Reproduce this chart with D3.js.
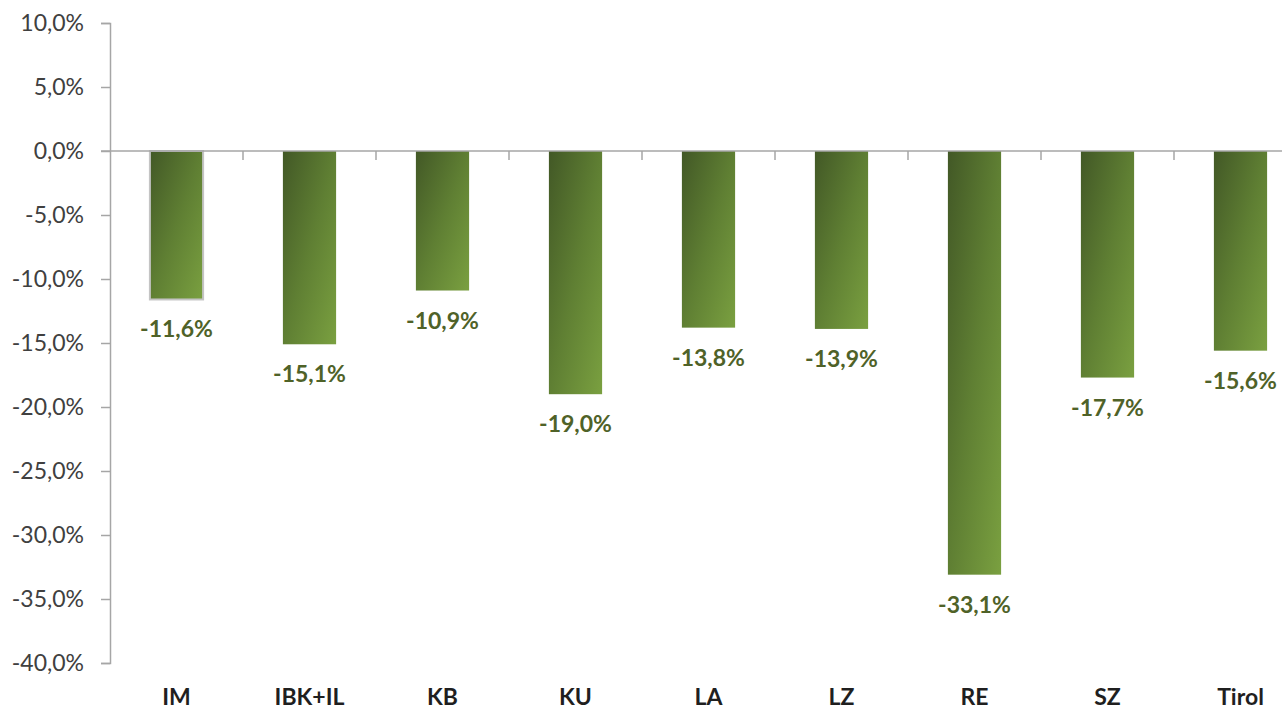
<!DOCTYPE html>
<html><head><meta charset="utf-8">
<script src="https://cdn.jsdelivr.net/npm/d3@7"></script>
<style>
html,body{margin:0;padding:0;background:#fff;overflow:hidden}
text{font-family:Lato,"Open Sans",sans-serif}
</style></head>
<body><svg id="c" width="1282" height="709"></svg>
<script>
const categories = ["IM","IBK+IL","KB","KU","LA","LZ","RE","SZ","Tirol"];
const values = [-11.6,-15.1,-10.9,-19.0,-13.8,-13.9,-33.1,-17.7,-15.6];
const yTicks = [10,5,0,-5,-10,-15,-20,-25,-30,-35,-40];

const svg = d3.select("#c");
const loc = d3.formatLocale({decimal:",",thousands:".",grouping:[3],currency:["","€"],minus:"-"});
const fmt = loc.format(".1f");

const x = d3.scaleBand().domain(categories).range([110,1307]).paddingInner(0.6).paddingOuter(0.3);
const y = d3.scaleLinear().domain([-40,10]).range([663,23]);

const defs = svg.append("defs");
const g = defs.append("linearGradient").attr("id","grad").attr("x1","0").attr("y1","0").attr("x2","1").attr("y2","1");
g.append("stop").attr("offset","0").attr("stop-color","#425826");
g.append("stop").attr("offset","0.5").attr("stop-color","#5f7f33");
g.append("stop").attr("offset","1").attr("stop-color","#7aa040");

// y axis
const ya = svg.append("g").attr("transform","translate(110,0)")
  .call(d3.axisLeft(y).tickValues(yTicks).tickSize(9).tickPadding(17).tickFormat(d=>fmt(d)+"%"));
ya.select(".domain").attr("stroke","#a6a6a6").attr("stroke-width",1.5);
ya.selectAll(".tick line").attr("stroke","#a6a6a6").attr("stroke-width",1.5);
ya.selectAll(".tick text").attr("font-size",23).attr("fill","#404040").attr("font-family","Lato,'Open Sans',sans-serif");

// bars
svg.selectAll("rect.bar").data(values).join("rect").attr("class","bar")
  .attr("x",(d,i)=>x(categories[i]))
  .attr("y",y(0))
  .attr("width",x.bandwidth())
  .attr("height",d=>y(d)-y(0))
  .attr("fill","url(#grad)")
  .attr("stroke",(d,i)=>i===0?"#c4c4c4":"none")
  .attr("stroke-width",2);

// zero line with category ticks
const xa = svg.append("g").attr("transform",`translate(0,${y(0)})`);
xa.append("line").attr("x1",101).attr("x2",1307).attr("stroke","#a6a6a6").attr("stroke-width",1.5);
const step = x.step();
xa.selectAll("line.t").data(categories).join("line").attr("class","t")
  .attr("x1",d=>x(d)-x.paddingOuter()*step+step).attr("x2",d=>x(d)-x.paddingOuter()*step+step)
  .attr("y1",0).attr("y2",9).attr("stroke","#a6a6a6").attr("stroke-width",1.5);

// value labels
svg.selectAll("text.val").data(values).join("text").attr("class","val")
  .attr("x",(d,i)=>x(categories[i])+x.bandwidth()/2)
  .attr("y",d=>y(d)+38)
  .attr("text-anchor","middle").attr("font-size",23).attr("font-weight","bold").attr("fill","#4f6228")
  .text(d=>fmt(d)+"%");

// category labels
svg.selectAll("text.cat").data(categories).join("text").attr("class","cat")
  .attr("x",d=>x(d)+x.bandwidth()/2)
  .attr("y",705)
  .attr("text-anchor","middle").attr("font-size",23).attr("font-weight","bold").attr("fill","#1f1f1f")
  .text(d=>d);
</script></body></html>
